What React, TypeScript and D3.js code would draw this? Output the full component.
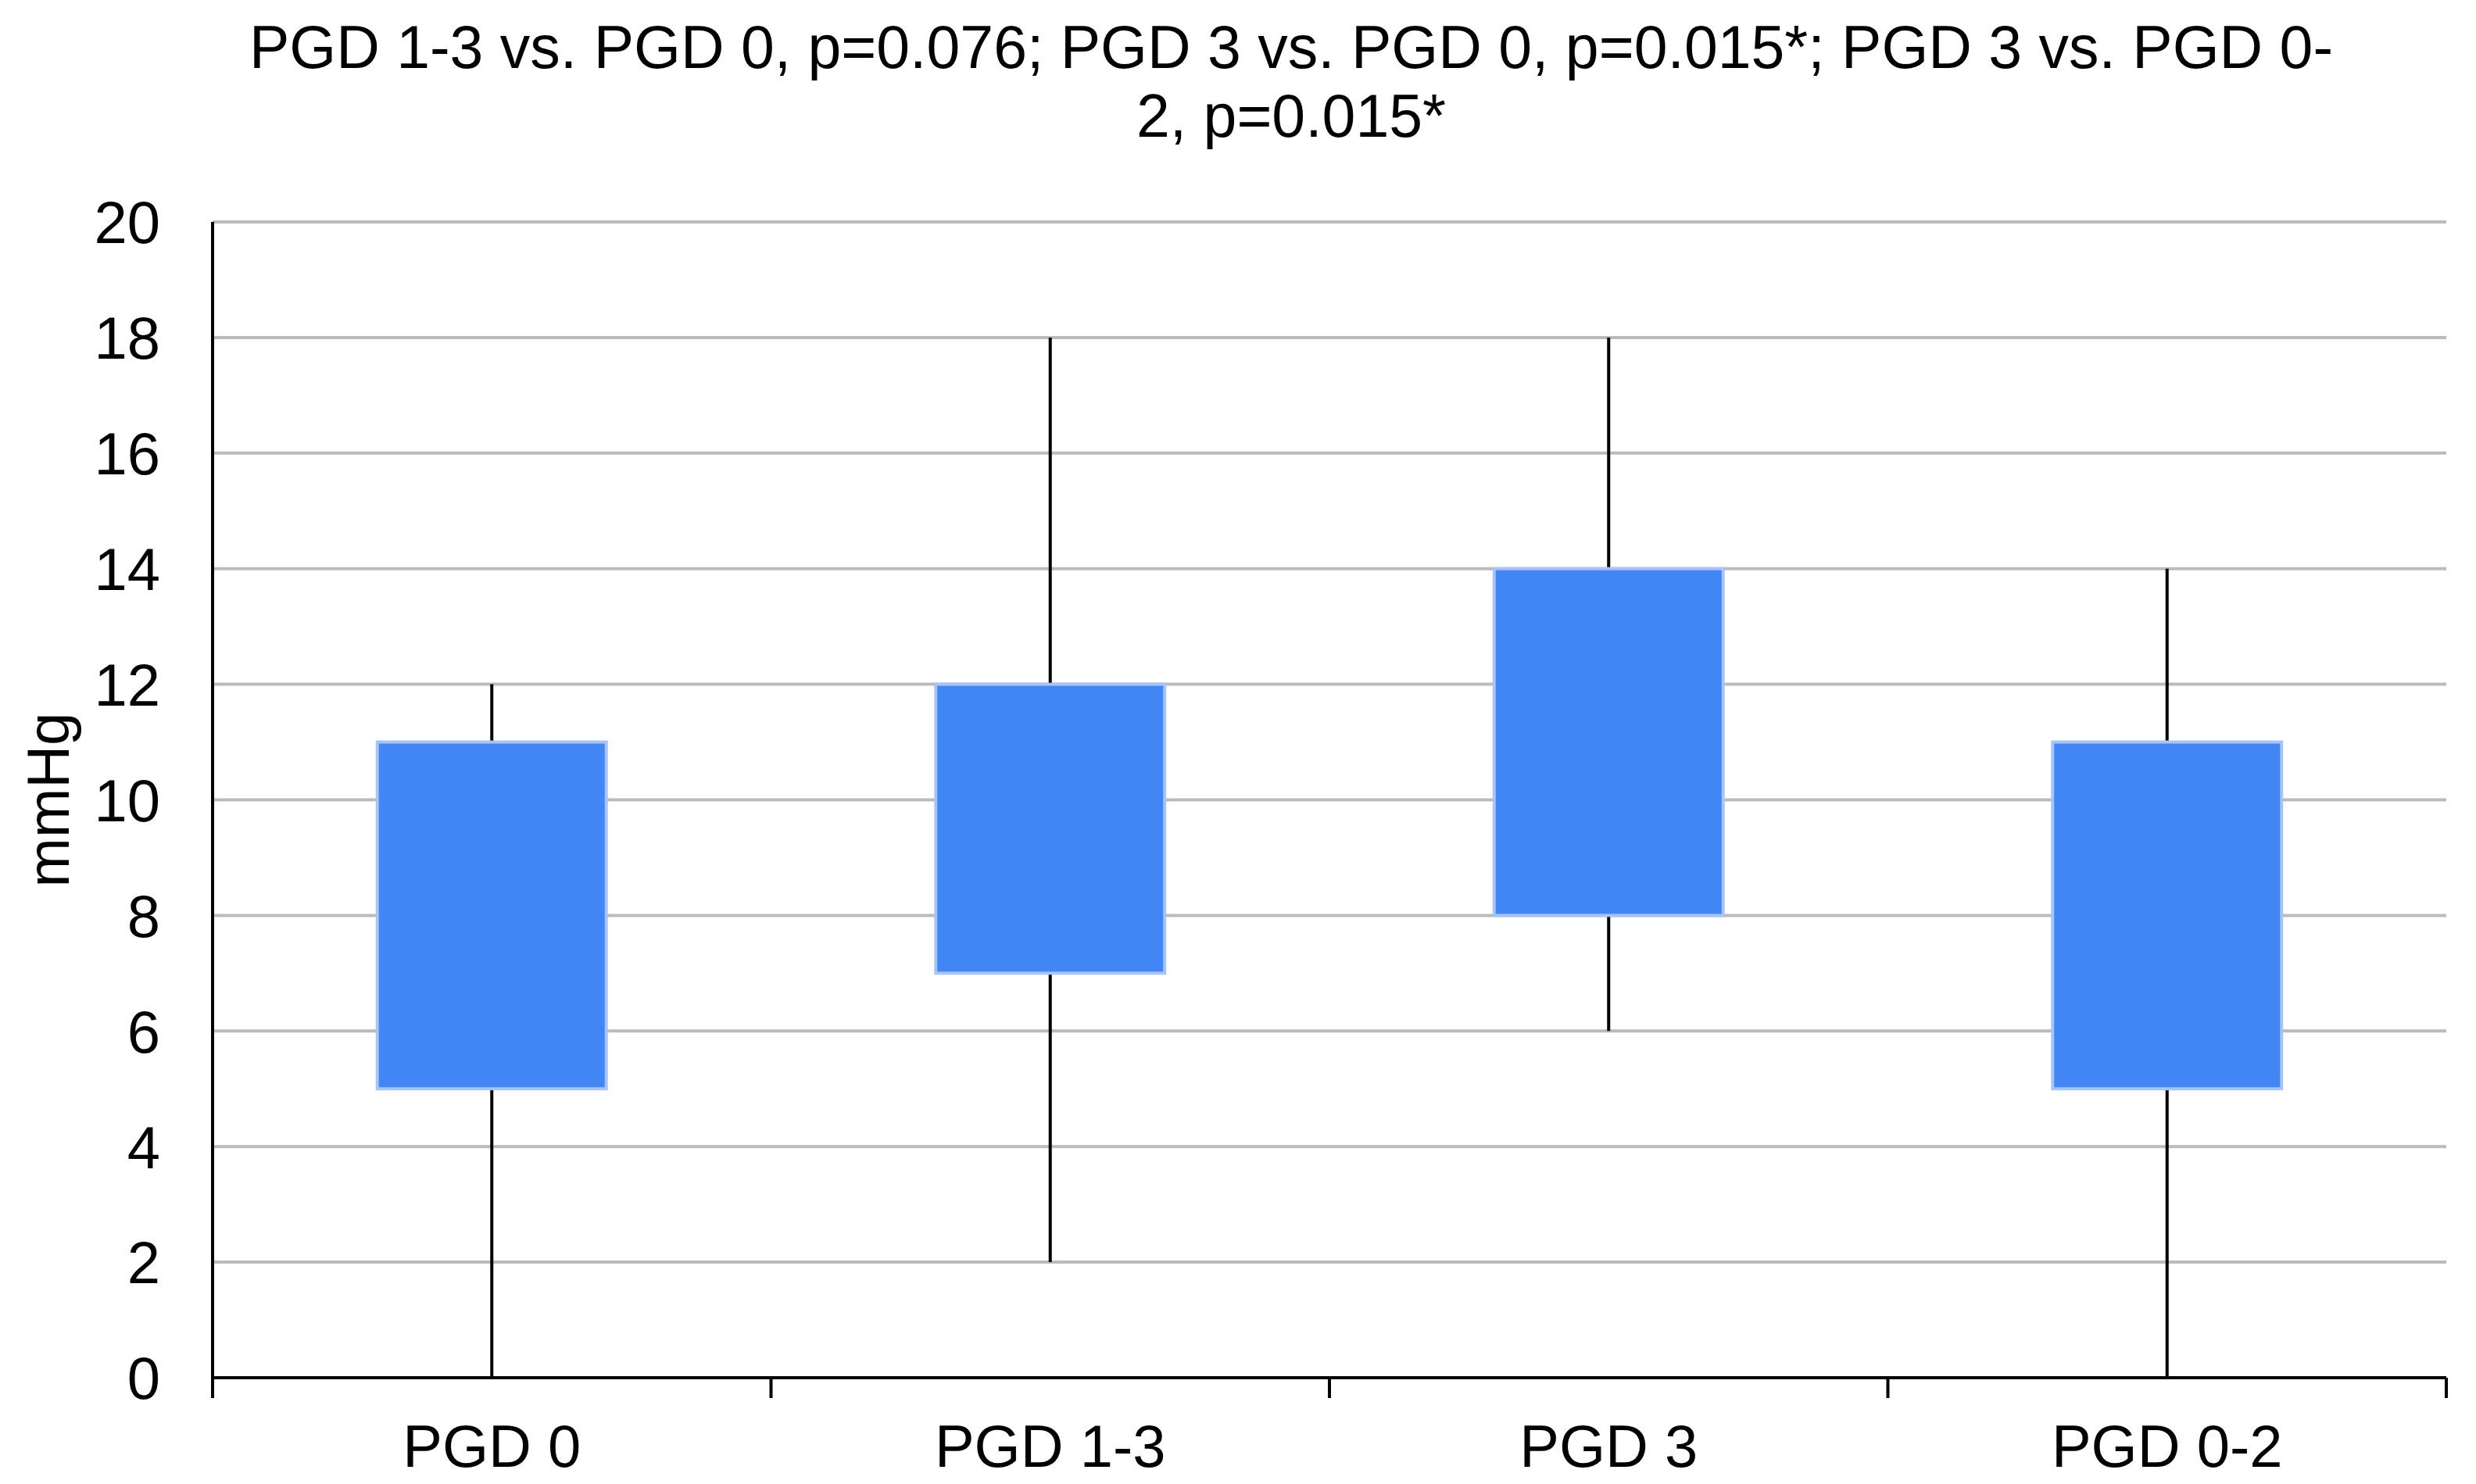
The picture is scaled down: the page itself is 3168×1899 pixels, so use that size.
import React from "react";
import * as d3 from "d3";

// box plot data (mmHg)
const categories = ["PGD 0", "PGD 1-3", "PGD 3", "PGD 0-2"];
const whiskerLow = [0, 2, 6, 0];
const boxLow = [5, 7, 8, 5];
const boxHigh = [11, 12, 14, 11];
const whiskerHigh = [12, 18, 18, 14];
const yTicks = [0, 2, 4, 6, 8, 10, 12, 14, 16, 18, 20];
const titleLines = [
    "PGD 1-3 vs. PGD 0, p=0.076; PGD 3 vs. PGD 0, p=0.015*; PGD 3 vs. PGD 0-",
    "2, p=0.015*",
];
const yLabel = "mmHg";

export default function App() {
    const width = 3168;
    const height = 1899;
    const margin = { top: 284, right: 38, bottom: 136, left: 272 };
    const font = "'Liberation Sans', Arial, sans-serif";
    const fontSize = 76;

    const x = d3
        .scaleBand<string>()
        .domain(categories)
        .range([margin.left, width - margin.right])
        .paddingInner(0)
        .paddingOuter(0);

    const y = d3
        .scaleLinear()
        .domain([0, 20])
        .range([height - margin.bottom, margin.top]);

    const boxW = x.bandwidth() * 0.41;
    const edges = [...categories.map((c) => x(c) as number), width - margin.right];

    return (
        <svg
            width={width}
            height={height}
            style={{ position: "absolute", left: 0, top: 0, display: "block", background: "#fff" }}
            fontFamily={font}
        >
            {/* title */}
            {titleLines.map((t, i) => (
                <text key={i} x={1652} y={87 + i * 88} textAnchor="middle" fontSize={77} fill="#000">
                    {t}
                </text>
            ))}

            {/* grid lines */}
            {yTicks.filter((t) => t > 0).map((t) => (
                <line
                    key={t}
                    x1={margin.left}
                    x2={width - margin.right}
                    y1={y(t)}
                    y2={y(t)}
                    stroke="#bbbbbb"
                    strokeWidth={4}
                />
            ))}

            {/* y tick labels */}
            {yTicks.map((t) => (
                <text key={t} x={205} y={y(t)} dy="0.36em" textAnchor="end" fontSize={fontSize} fill="#000">
                    {t}
                </text>
            ))}

            <text
                transform={`translate(${88},${(y(0) + y(20)) / 2}) rotate(-90)`}
                textAnchor="middle"
                fontSize={fontSize}
                fill="#000"
            >
                {yLabel}
            </text>

            {/* whiskers and boxes */}
            {categories.map((c, i) => {
                const cx = (x(c) as number) + x.bandwidth() / 2;
                return (
                    <g key={c}>
                        <line x1={cx} x2={cx} y1={y(whiskerLow[i])} y2={y(whiskerHigh[i])} stroke="#000" strokeWidth={4} />
                        <rect
                            x={cx - boxW / 2}
                            y={y(boxHigh[i])}
                            width={boxW}
                            height={y(boxLow[i]) - y(boxHigh[i])}
                            fill="#4285f4"
                            stroke="#a6c4f8"
                            strokeWidth={4}
                        />
                    </g>
                );
            })}

            {/* axes */}
            <line x1={margin.left} x2={margin.left} y1={y(20)} y2={y(0)} stroke="#000" strokeWidth={4} />
            <line x1={margin.left - 2} x2={width - margin.right} y1={y(0)} y2={y(0)} stroke="#000" strokeWidth={4} />
            {edges.map((e, i) => (
                <line key={i} x1={e} x2={e} y1={y(0)} y2={y(0) + 26} stroke="#000" strokeWidth={4} />
            ))}

            {/* x labels */}
            {categories.map((c) => (
                <text
                    key={c}
                    x={(x(c) as number) + x.bandwidth() / 2}
                    y={1877}
                    textAnchor="middle"
                    fontSize={fontSize}
                    fill="#000"
                >
                    {c}
                </text>
            ))}
        </svg>
    );
}
